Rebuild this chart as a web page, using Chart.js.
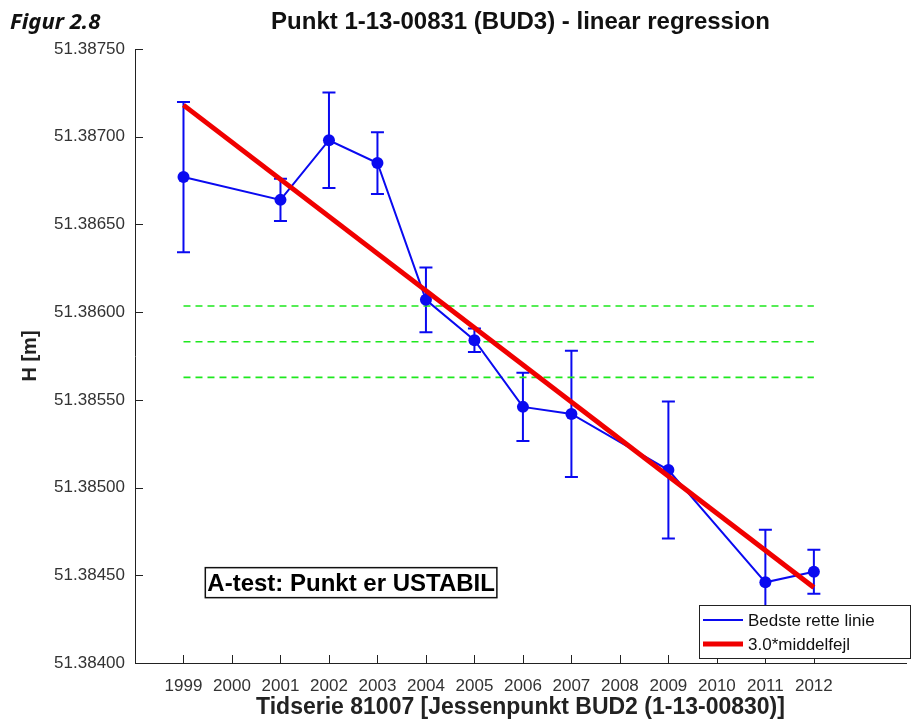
<!DOCTYPE html>
<html>
<head>
<meta charset="utf-8">
<script src="https://cdn.jsdelivr.net/npm/chart.js@4.4.1/dist/chart.umd.min.js"></script>
<style>
  body { margin: 0; background: #fff; }
  #wrap { position: relative; width: 912px; height: 719px; }
  #fig { position: absolute; left: 10px; top: 5px; font: italic bold 22px "Noto Sans", sans-serif; color: #111; }
</style>
</head>
<body>
<div id="wrap">
  <canvas id="chart" width="912" height="719"></canvas>
  <div id="fig">Figur 2.8</div>
</div>
<script>
// measurements (year, height, 1-sigma bar)
var years = [1999, 2001, 2002, 2003, 2004, 2005, 2006, 2007, 2009, 2011, 2012];
var heights = [51.38677, 51.38664, 51.38698, 51.38685, 51.38607, 51.38584, 51.38546, 51.38542, 51.38510, 51.38446, 51.38452];
var errors = [0.000428, 0.00012, 0.000272, 0.000176, 0.000185, 0.000067, 0.000195, 0.00036, 0.00039, 0.0003, 0.000125];

// regression line end points
var fitYears = [1999, 2012];
var fitHeights = [51.38718, 51.38443];

// dashed green levels
var levelYears = [1999, 2012];
var levels = [51.386035, 51.385831, 51.385628];

var xTicks = [1999, 2000, 2001, 2002, 2003, 2004, 2005, 2006, 2007, 2008, 2009, 2010, 2011, 2012];
var yTicks = [51.384, 51.3845, 51.385, 51.3855, 51.386, 51.3865, 51.387, 51.3875];

var blue = '#0a0af0';
var red = '#f00000';
var green = '#1ee81e';
var font = 'Liberation Sans';

function pts(xs, ys) {
  return xs.map(function (x, i) { return { x: x, y: ys[i] }; });
}

var datasets = [{
  label: '3.0*middelfejl',
  data: pts(fitYears, fitHeights),
  showLine: true,
  borderColor: red,
  backgroundColor: red,
  borderWidth: 5,
  pointRadius: 0
}, {
  label: 'Bedste rette linie',
  data: pts(years, heights),
  showLine: true,
  borderColor: blue,
  backgroundColor: blue,
  borderWidth: 2,
  pointRadius: 6,
  pointBorderWidth: 0,
  pointBackgroundColor: blue
}];
levels.forEach(function (lv) {
  datasets.push({
    label: '',
    data: pts(levelYears, [lv, lv]),
    showLine: true,
    borderColor: green,
    borderWidth: 1.6,
    borderDash: [7, 5],
    pointRadius: 0
  });
});

var extras = {
  id: 'extras',
  beforeDatasetsDraw: function (chart) {
    // error bars for the blue series
    var c = chart.ctx, xs = chart.scales.x, ys = chart.scales.y;
    c.save();
    c.strokeStyle = blue;
    c.lineWidth = 2;
    years.forEach(function (yr, i) {
      var px = xs.getPixelForValue(yr);
      var top = ys.getPixelForValue(heights[i] + errors[i]);
      var bot = ys.getPixelForValue(heights[i] - errors[i]);
      c.beginPath();
      c.moveTo(px, top); c.lineTo(px, bot);
      c.moveTo(px - 6.5, top); c.lineTo(px + 6.5, top);
      c.moveTo(px - 6.5, bot); c.lineTo(px + 6.5, bot);
      c.stroke();
    });
    c.restore();
  },
  afterDraw: function (chart) {
    var c = chart.ctx, xs = chart.scales.x, ys = chart.scales.y, a = chart.chartArea;
    c.save();
    // inward tick marks
    c.strokeStyle = '#222';
    c.lineWidth = 1;
    c.beginPath();
    xTicks.forEach(function (v) {
      var px = Math.round(xs.getPixelForValue(v)) + 0.5;
      c.moveTo(px, a.bottom); c.lineTo(px, a.bottom - 8);
    });
    yTicks.forEach(function (v) {
      var py = Math.round(ys.getPixelForValue(v)) + 0.5;
      c.moveTo(a.left, py); c.lineTo(a.left + 8, py);
    });
    c.stroke();

    // A-test note
    var bx = xs.getPixelForValue(1999.45), by = ys.getPixelForValue(51.384458);
    c.font = 'bold 24px "' + font + '"';
    var tw = c.measureText('A-test: Punkt er USTABIL').width;
    c.fillStyle = '#fff';
    c.fillRect(bx, by - 15, tw + 4, 30);
    c.strokeStyle = '#111';
    c.lineWidth = 1.5;
    c.strokeRect(bx, by - 15, tw + 4, 30);
    c.fillStyle = '#000';
    c.textBaseline = 'middle';
    c.fillText('A-test: Punkt er USTABIL', bx + 2, by + 2);

    // legend box
    var lx = 699, ly = 605, lw = 211, lh = 53;
    c.fillStyle = '#fff';
    c.fillRect(lx, ly, lw, lh);
    c.strokeStyle = '#222';
    c.lineWidth = 1;
    c.strokeRect(lx + 0.5, ly + 0.5, lw, lh);
    var items = [chart.data.datasets[1], chart.data.datasets[0]];
    c.font = '17px "' + font + '"';
    c.textBaseline = 'middle';
    items.forEach(function (ds, i) {
      var yy = ly + 15 + i * 24;
      c.strokeStyle = ds.borderColor;
      c.lineWidth = ds.borderWidth;
      c.beginPath();
      c.moveTo(lx + 4, yy); c.lineTo(lx + 44, yy);
      c.stroke();
      c.fillStyle = '#111';
      c.fillText(ds.label, lx + 49, yy + 1);
    });
    c.restore();
  }
};

new Chart(document.getElementById('chart').getContext('2d'), {
  type: 'scatter',
  data: { datasets: datasets },
  plugins: [extras],
  options: {
    responsive: false,
    animation: false,
    layout: { padding: { left: 0, right: 3, top: 0, bottom: 0 } },
    plugins: {
      legend: { display: false },
      tooltip: { enabled: false },
      title: {
        display: true,
        fullSize: false,
        text: 'Punkt 1-13-00831 (BUD3) - linear regression',
        color: '#111',
        font: { family: font, size: 24, weight: 'bold' },
        padding: { top: 8, bottom: 12.2 }
      }
    },
    scales: {
      x: {
        type: 'linear',
        min: 1998,
        max: 2013.9,
        afterBuildTicks: function (s) { s.ticks = xTicks.map(function (v) { return { value: v }; }); },
        afterFit: function (s) { s.height = 56; },
        grid: { display: false, drawTicks: false },
        border: { display: true, color: '#222', width: 1 },
        ticks: {
          color: '#333',
          font: { family: font, size: 17 },
          padding: 13,
          maxRotation: 0,
          autoSkip: false,
          callback: function (v) { return String(v); }
        },
        title: {
          display: true,
          text: 'Tidserie 81007 [Jessenpunkt BUD2 (1-13-00830)]',
          color: '#222',
          font: { family: font, size: 23, weight: 'bold', lineHeight: 1 },
          padding: { top: 0, bottom: 0 }
        }
      },
      y: {
        min: 51.384,
        max: 51.3875,
        afterBuildTicks: function (s) { s.ticks = yTicks.map(function (v) { return { value: v }; }); },
        afterFit: function (s) { s.width = 135; },
        grid: { display: false, drawTicks: false },
        border: { display: true, color: '#222', width: 1 },
        ticks: {
          color: '#333',
          font: { family: font, size: 17 },
          padding: 10,
          autoSkip: false,
          callback: function (v) { return v.toFixed(5); }
        },
        title: {
          display: true,
          text: 'H [m]',
          color: '#222',
          font: { family: font, size: 20, weight: 'bold' },
          padding: { top: 18, bottom: 0 }
        }
      }
    }
  }
});
</script>
</body>
</html>
